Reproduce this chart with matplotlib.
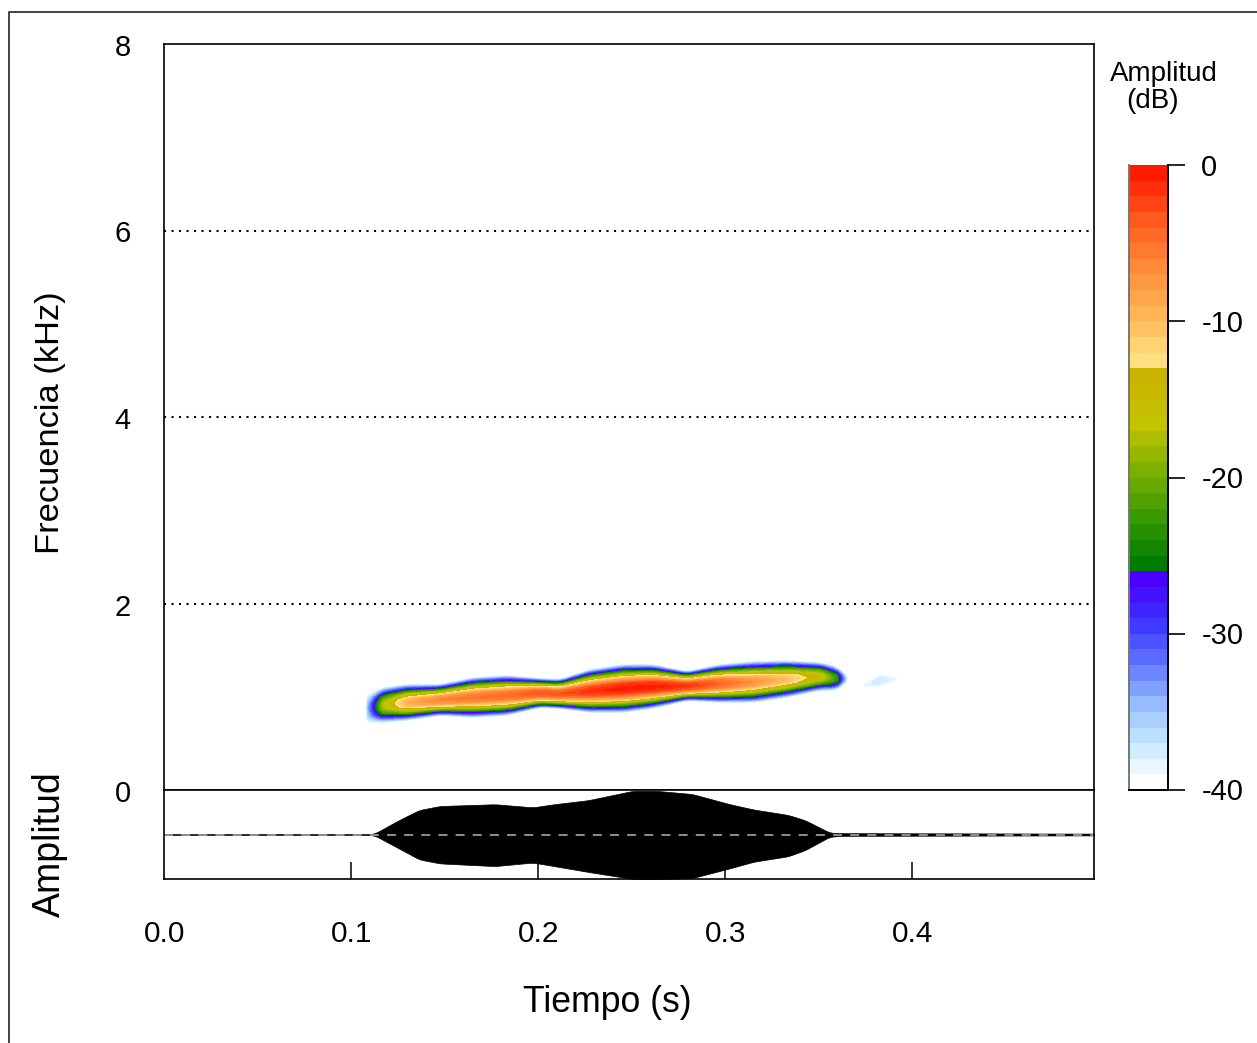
import numpy as np
import matplotlib
matplotlib.use("Agg")
import matplotlib.pyplot as plt
from matplotlib.colors import ListedColormap, BoundaryNorm, LinearSegmentedColormap
from matplotlib.lines import Line2D
from matplotlib.transforms import ScaledTranslation

plt.rcParams['font.family'] = ['Liberation Sans', 'DejaVu Sans']
plt.rcParams['axes.unicode_minus'] = False

# ---- Data ----
call_time = [.1086,.1171,.1299,.1476,.1652,.1834,.2011,.2118,.2278,.2455,.2615,.2797,.2973,.3150,.3332,.3508,.3599,.3658]
call_top = [1.03,1.104,1.136,1.136,1.211,1.233,1.200,1.190,1.297,1.350,1.350,1.275,1.350,1.383,1.393,1.372,1.329,1.222]
call_bottom = [.708,.719,.741,.794,.773,.794,.880,.869,.826,.826,.869,.955,.934,.934,.987,1.062,1.062,1.170]
call_peak_db = [-36,-17,-9,-6,-5,-4.5,-3,-3,-1.5,-.3,-.3,-1.5,-4,-7,-10,-15,-23,-40]
profile_offset = [0,.2,.46,.72,1]
profile_drop = [0,.05,.27,.62,1]

faint_time = [.3745,.3830,.3960]
faint_top = [1.16,1.25,1.21]
faint_bottom = [1.08,1.10,1.20]
faint_peak_db = [-39,-37,-40]

env_time = [0,.1085,.1126,.1255,.1365,.1476,.177,.1973,.2086,.2267,.2507,.2636,.2824,.3026,.3155,.3337,.3429,.356,.362,.4973]
env_upper = [.008,.008,.02,.32,.55,.64,.68,.61,.68,.77,.98,.98,.91,.68,.56,.44,.32,.04,.03,.02]
env_lower = [.008,.008,.02,.31,.56,.65,.71,.63,.71,.84,1.0,1.0,.98,.76,.61,.49,.35,.05,.03,.02]

freq_labels = [0,2,4,6,8]
freq_grid = [2,4,6]
time_ticks = [.1,.2,.3,.4]
time_labels = [0,.1,.2,.3,.4]
db_ticks = [0,-10,-20,-30,-40]
t_max = .4973

warm_steps = LinearSegmentedColormap.from_list('w', ['#ff1a00','#ff5a1e','#ff8a3a','#ffb455','#ffe080'])
green_steps = LinearSegmentedColormap.from_list('g', ['#cbb400','#c3c300','#80b000','#3a9a00','#007c00'])
blue_steps = LinearSegmentedColormap.from_list('b', ['#4b00ff','#3a30ff','#5c70ff','#90b8ff','#c4e8ff','#ffffff'])
colors = [warm_steps(i/12) for i in range(13)] + [green_steps(i/12) for i in range(13)] + [blue_steps(i/13) for i in range(14)]
cmap = ListedColormap(colors[::-1])
levels = np.arange(-40, 1, 1)
norm = BoundaryNorm(levels, cmap.N)

W, H = 1257, 1043
fig = plt.figure(figsize=(W/100, H/100), dpi=100)
def box(x0, y0, x1, y1):
    return [x0/W, 1-y1/H, (x1-x0)/W, (y1-y0)/H]

ax = fig.add_axes(box(164, 44, 1094, 790))
osc = fig.add_axes(box(164, 790, 1094, 879), sharex=ax)
cax = fig.add_axes(box(1129, 165, 1168, 790))

def smooth(a, n):
    k = np.ones(n)/n
    return np.convolve(np.pad(a, n, mode='edge'), k, mode='same')[n:-n]

def field(tg, fg, t, top, bottom, peak, n):
    c = smooth(np.interp(tg, t, (np.array(top)+np.array(bottom))/2), n)
    h = smooth(np.interp(tg, t, (np.array(top)-np.array(bottom))/2), n)
    p = np.interp(tg, t, peak)
    T, F = np.meshgrid(tg, fg)
    d = np.abs(F-c)/h
    P = p*np.ones_like(F)
    z = P - np.interp(d, profile_offset, profile_drop)*(P+40)
    z[d > 1] = -41
    z[(T < t[0]) | (T > t[-1])] = -41
    return z

tg = np.linspace(0, t_max, 1860)
fg = np.linspace(0, 3, 560)
Z = np.maximum(field(tg, fg, call_time, call_top, call_bottom, call_peak_db, 25),
               field(tg, fg, faint_time, faint_top, faint_bottom, faint_peak_db, 3))
ax.contourf(tg, fg, Z, levels=levels, cmap=cmap, norm=norm)
ax.set_xlim(0, t_max)
ax.set_ylim(0, 8)
for f in freq_grid:
    ax.axhline(f, color='black', lw=1.5, ls=(0, (1, 2.6)))
ax.set_yticks(freq_labels)
ax.tick_params(axis='y', length=0, pad=24, labelsize=21)
ax.tick_params(axis='x', bottom=False, labelbottom=False)
for lab in ax.get_yticklabels():
    lab.set_transform(lab.get_transform() + ScaledTranslation(0, -1/100, fig.dpi_scale_trans))

t_dense = np.linspace(0, t_max, 930)
up = smooth(np.interp(t_dense, env_time, env_upper), 9)
lo = smooth(np.interp(t_dense, env_time, env_lower), 9)
osc.fill_between(t_dense, -lo, up, color='black', lw=0.5)
osc.axhline(0, color='#999999', lw=1.3, ls=(0, (5, 4.5)))
osc.set_ylim(-1, 1)
osc.set_yticks([])
osc.set_xticks(time_ticks)
osc.tick_params(axis='x', direction='in', length=12, width=1.1, labelbottom=False)
for v in time_labels:
    osc.annotate(f"{v:.1f}", (v, 0), xycoords=('data', 'axes fraction'),
                 xytext=(1, -55), textcoords='offset pixels', ha='center', va='center', fontsize=21.5)

for a in (ax, osc):
    for s in a.spines.values():
        s.set_linewidth(1.2)

cvals = np.arange(-39.5, 0, 1).reshape(-1, 1)
cax.pcolormesh([0, 1], levels, cvals, cmap=cmap, norm=norm)
cax.set_xticks([])
cax.set_ylim(-40, 0)
cax.yaxis.tick_right()
cax.set_yticks(db_ticks)
cax.tick_params(axis='y', length=12, width=1.2, pad=12, labelsize=21)
for lab in cax.get_yticklabels():
    lab.set_transform(lab.get_transform() + ScaledTranslation(0, 0.5/100, fig.dpi_scale_trans))
cax.spines['top'].set_visible(False)
cax.spines['left'].set_color('#777777')
for s in ('right', 'bottom', 'left'):
    cax.spines[s].set_linewidth(1.4)

def px(x, y, s, **k):
    fig.text(x/W, 1-y/H, s, ha='center', va='center', **k)
px(50, 423, 'Frecuencia (kHz)', rotation=90, fontsize=24.8)
px(50, 844, 'Amplitud', rotation=90, fontsize=27)
px(607, 1002, 'Tiempo (s)', fontsize=25.7)
px(1164, 74, 'Amplitud', fontsize=20)
px(1153, 101, '(dB)', fontsize=20)

fig.add_artist(Line2D([9/W, 9/W, 1], [0, 1-12/H, 1-12/H], color='#222222', lw=1.2, transform=fig.transFigure))
fig.savefig('out.png', dpi=100)
